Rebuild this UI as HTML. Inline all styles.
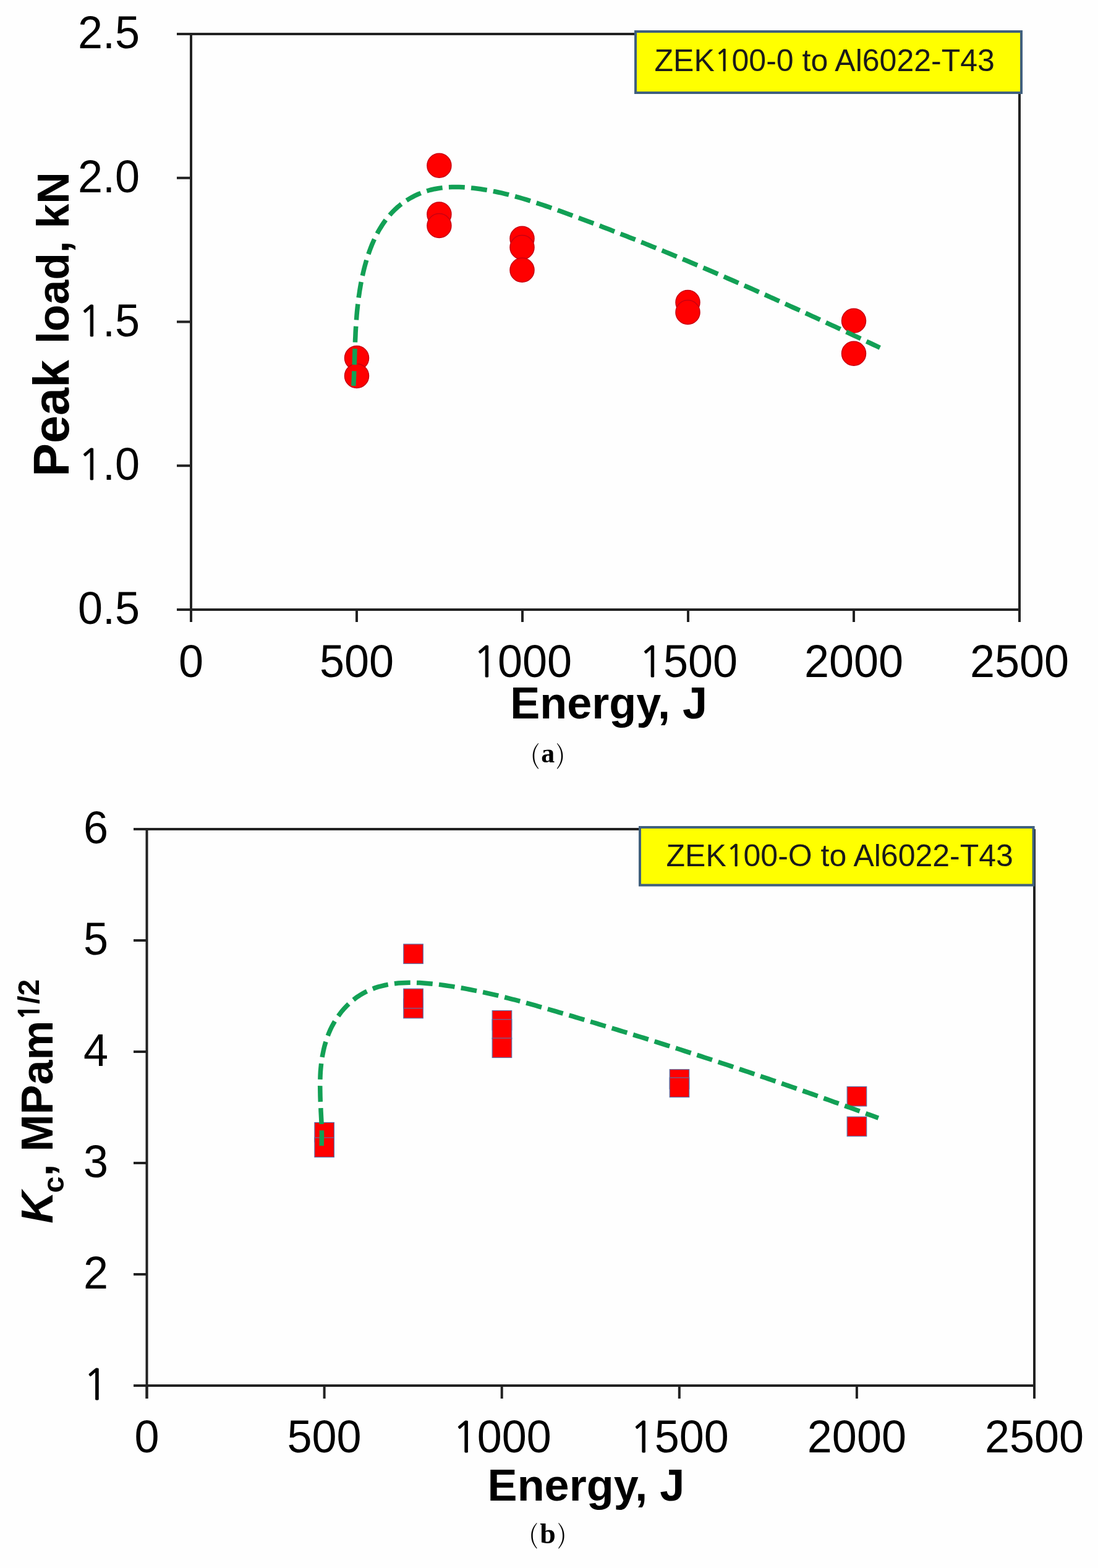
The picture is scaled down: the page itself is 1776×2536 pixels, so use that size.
<!DOCTYPE html>
<html><head><meta charset="utf-8"><title>Peak load and Kc vs Energy</title>
<style>html,body{margin:0;padding:0;background:#fefefe;overflow:hidden;}svg{display:block;}</style></head>
<body>
<svg width="1776" height="2536" viewBox="0 0 1776 2536">
<rect width="1776" height="2536" fill="#fefefe"/>
<g stroke="#222222" stroke-width="4.0" fill="none" stroke-linecap="butt">
<path d="M309,53.0 V1006 M286,986 H1649 M1649,55 V1006 M309,55 H1649"/>
<path d="M286,55.0 H309"/>
<path d="M286,287.8 H309"/>
<path d="M286,520.5 H309"/>
<path d="M286,753.2 H309"/>
<path d="M286,986.0 H309"/>
<path d="M309.0,986 V1006"/>
<path d="M577.0,986 V1006"/>
<path d="M845.0,986 V1006"/>
<path d="M1113.0,986 V1006"/>
<path d="M1381.0,986 V1006"/>
<path d="M1649.0,986 V1006"/>
</g>
<g font-family="'Liberation Sans', Arial, sans-serif" font-size="72" fill="#000" text-anchor="end">
<text transform="translate(226,78.0) scale(1,1.03)">2.5</text>
<text transform="translate(226,310.8) scale(1,1.03)">2.0</text>
<text transform="translate(226,543.5) scale(1,1.03)"><tspan font-family="NanumGothic, Liberation Sans, sans-serif" font-size="67.0" dx="0.00" stroke="currentColor" stroke-width="0.90">1</tspan><tspan dx="-0.57">.</tspan>5</text>
<text transform="translate(226,776.2) scale(1,1.03)"><tspan font-family="NanumGothic, Liberation Sans, sans-serif" font-size="67.0" dx="0.00" stroke="currentColor" stroke-width="0.90">1</tspan><tspan dx="-0.57">.</tspan>0</text>
<text transform="translate(226,1009.0) scale(1,1.03)">0.5</text>
</g>
<g font-family="'Liberation Sans', Arial, sans-serif" font-size="72" fill="#000" text-anchor="middle">
<text transform="translate(309.0,1094.5) scale(1,1.03)">0</text>
<text transform="translate(577.0,1094.5) scale(1,1.03)">500</text>
<text transform="translate(845.0,1094.5) scale(1,1.03)"><tspan font-family="NanumGothic, Liberation Sans, sans-serif" font-size="67.0" dx="0.00" stroke="currentColor" stroke-width="0.90">1</tspan><tspan dx="-0.57">0</tspan>00</text>
<text transform="translate(1113.0,1094.5) scale(1,1.03)"><tspan font-family="NanumGothic, Liberation Sans, sans-serif" font-size="67.0" dx="0.00" stroke="currentColor" stroke-width="0.90">1</tspan><tspan dx="-0.57">5</tspan>00</text>
<text transform="translate(1381.0,1094.5) scale(1,1.03)">2000</text>
<text transform="translate(1649.0,1094.5) scale(1,1.03)">2500</text>
</g>
<text transform="translate(984.6,1162) scale(1,1.01)" font-family="'Liberation Sans', Arial, sans-serif" font-size="72" font-weight="bold" text-anchor="middle">Energy, J</text>
<text x="858.1" y="1234.7" font-family="'Noto Serif CJK SC', 'Liberation Serif', serif" font-weight="300" font-size="40.2">(<tspan font-family="'Liberation Serif', 'Times New Roman', serif" font-weight="bold" font-size="44" dx="2.9" dy="-1.6">a</tspan><tspan dx="2.4" dy="1.6">)</tspan></text>
<text transform="translate(111.1,771.1) rotate(-90)" font-family="'Liberation Sans', Arial, sans-serif" font-weight="bold"><tspan font-size="81">Peak </tspan><tspan font-size="71.5" dx="3.3">load, kN</tspan></text>
<circle cx="577" cy="579" r="19.5" fill="#ff0000" stroke="#c80010" stroke-width="1.5"/>
<circle cx="577" cy="608" r="19.5" fill="#ff0000" stroke="#c80010" stroke-width="1.5"/>
<circle cx="710.4" cy="267.8" r="19.5" fill="#ff0000" stroke="#c80010" stroke-width="1.5"/>
<circle cx="710.4" cy="346.6" r="19.5" fill="#ff0000" stroke="#c80010" stroke-width="1.5"/>
<circle cx="710.4" cy="365" r="19.5" fill="#ff0000" stroke="#c80010" stroke-width="1.5"/>
<circle cx="844.5" cy="385.8" r="19.5" fill="#ff0000" stroke="#c80010" stroke-width="1.5"/>
<circle cx="844.5" cy="400" r="19.5" fill="#ff0000" stroke="#c80010" stroke-width="1.5"/>
<circle cx="844.5" cy="436.7" r="19.5" fill="#ff0000" stroke="#c80010" stroke-width="1.5"/>
<circle cx="1112.5" cy="489" r="19.5" fill="#ff0000" stroke="#c80010" stroke-width="1.5"/>
<circle cx="1112.5" cy="505" r="19.5" fill="#ff0000" stroke="#c80010" stroke-width="1.5"/>
<circle cx="1381" cy="518.8" r="19.5" fill="#ff0000" stroke="#c80010" stroke-width="1.5"/>
<circle cx="1381" cy="571.8" r="19.5" fill="#ff0000" stroke="#c80010" stroke-width="1.5"/>
<path d="M571.8,624.0 L572.1,618.1 L572.4,612.3 L572.6,606.5 L572.8,600.8 L573.0,595.0 L573.2,589.3 L573.4,583.6 L573.6,577.9 L573.8,572.2 L574.0,566.5 L574.2,560.8 L574.4,555.2 L574.6,549.5 L574.9,543.8 L575.1,538.2 L575.4,532.5 L575.8,526.9 L576.2,521.2 L576.6,515.5 L577.0,509.9 L577.5,504.2 L578.1,498.5 L578.7,492.8 L579.4,487.0 L580.1,481.3 L581.0,475.5 L581.8,469.8 L582.8,464.0 L583.8,458.1 L585.0,452.3 L586.2,446.5 L587.5,440.7 L588.9,434.9 L590.4,429.1 L592.0,423.4 L593.7,417.7 L595.5,412.1 L597.5,406.5 L599.5,401.0 L601.7,395.5 L604.0,390.2 L606.5,384.9 L609.0,379.7 L611.7,374.7 L614.6,369.7 L617.6,364.9 L620.7,360.2 L624.0,355.6 L627.5,351.2 L631.1,346.9 L634.9,342.8 L638.8,338.9 L642.9,335.2 L647.2,331.6 L651.6,328.2 L656.2,325.0 L660.9,322.1 L665.8,319.3 L670.8,316.7 L675.9,314.3 L681.1,312.2 L686.3,310.2 L691.7,308.5 L697.2,307.0 L702.7,305.7 L708.3,304.7 L713.9,303.9 L719.6,303.2 L725.3,302.8 L731.1,302.6 L736.8,302.5 L742.6,302.6 L748.4,302.8 L754.3,303.2 L760.1,303.7 L765.9,304.3 L771.7,305.0 L777.4,305.8 L783.2,306.7 L788.9,307.6 L794.6,308.7 L800.3,309.8 L805.9,311.0 L811.6,312.2 L817.2,313.6 L822.8,314.9 L828.4,316.4 L833.9,317.9 L839.5,319.4 L845.0,321.0 L850.5,322.7 L856.1,324.4 L861.5,326.1 L867.0,327.9 L872.5,329.7 L878.0,331.5 L883.4,333.4 L888.9,335.3 L894.3,337.2 L899.7,339.1 L905.2,341.1 L910.6,343.1 L916.0,345.0 L921.4,347.0 L926.8,349.0 L932.2,351.0 L937.6,353.0 L943.0,355.0 L948.4,357.0 L953.8,359.0 L959.2,361.1 L964.6,363.1 L970.0,365.1 L975.3,367.2 L980.7,369.3 L986.1,371.3 L991.4,373.4 L996.8,375.5 L1002.1,377.6 L1007.5,379.7 L1012.9,381.8 L1018.2,383.9 L1023.5,386.0 L1028.9,388.1 L1034.2,390.3 L1039.6,392.4 L1044.9,394.6 L1050.2,396.7 L1055.5,398.9 L1060.9,401.0 L1066.2,403.2 L1071.5,405.4 L1076.8,407.6 L1082.1,409.8 L1087.4,412.0 L1092.8,414.2 L1098.1,416.4 L1103.4,418.6 L1108.7,420.8 L1114.0,423.0 L1119.2,425.3 L1124.5,427.5 L1129.8,429.7 L1135.1,432.0 L1140.4,434.2 L1145.7,436.5 L1151.0,438.8 L1156.2,441.0 L1161.5,443.3 L1166.8,445.6 L1172.1,447.9 L1177.3,450.2 L1182.6,452.5 L1187.8,454.8 L1193.1,457.1 L1198.4,459.4 L1203.6,461.7 L1208.9,464.0 L1214.1,466.3 L1219.4,468.7 L1224.6,471.0 L1229.9,473.3 L1235.1,475.7 L1240.4,478.0 L1245.6,480.4 L1250.9,482.7 L1256.1,485.1 L1261.4,487.5 L1266.6,489.8 L1271.8,492.2 L1277.1,494.6 L1282.3,497.0 L1287.5,499.3 L1292.8,501.7 L1298.0,504.1 L1303.2,506.5 L1308.5,508.9 L1313.7,511.3 L1318.9,513.7 L1324.2,516.1 L1329.4,518.5 L1334.6,520.9 L1339.8,523.4 L1345.1,525.8 L1350.3,528.2 L1355.5,530.6 L1360.7,533.1 L1365.9,535.5 L1371.2,537.9 L1376.4,540.4 L1381.6,542.8 L1386.8,545.2 L1392.0,547.7 L1397.2,550.1 L1402.5,552.6 L1407.7,555.0 L1412.9,557.5 L1418.1,559.9 L1423.3,562.4" fill="none" stroke="#12a055" stroke-width="7.5" stroke-dasharray="25.9 10.3" stroke-dashoffset="2"/>
<rect x="1028" y="51" width="624" height="99" fill="#ffff00" stroke="#40607e" stroke-width="4"/>
<text transform="translate(1058.5,114.6) scale(1,1.01)" font-family="'Liberation Sans', Arial, sans-serif" font-size="50" fill="#1a1a1a">ZEK<tspan font-family="NanumGothic, Liberation Sans, sans-serif" font-size="47.4" dx="0.00" stroke="currentColor" stroke-width="0.62">1</tspan><tspan dx="-0.94">0</tspan>0-0 to Al6022-T43</text>
<g stroke="#222222" stroke-width="4.0" fill="none" stroke-linecap="butt">
<path d="M237.5,1339.0 V2262 M216.0,2241 H1673 M1673,1341 V2262 M237.5,1341 H1673"/>
<path d="M216.0,1341.0 H237.5"/>
<path d="M216.0,1521.0 H237.5"/>
<path d="M216.0,1701.0 H237.5"/>
<path d="M216.0,1881.0 H237.5"/>
<path d="M216.0,2061.0 H237.5"/>
<path d="M216.0,2241.0 H237.5"/>
<path d="M237.5,2241 V2262"/>
<path d="M524.6,2241 V2262"/>
<path d="M811.7,2241 V2262"/>
<path d="M1098.8,2241 V2262"/>
<path d="M1385.9,2241 V2262"/>
<path d="M1673.0,2241 V2262"/>
</g>
<g font-family="'Liberation Sans', Arial, sans-serif" font-size="72" fill="#000" text-anchor="end">
<text transform="translate(175,1364.0) scale(1,1.03)">6</text>
<text transform="translate(175,1544.0) scale(1,1.03)">5</text>
<text transform="translate(175,1724.0) scale(1,1.03)">4</text>
<text transform="translate(175,1904.0) scale(1,1.03)">3</text>
<text transform="translate(175,2084.0) scale(1,1.03)">2</text>
<text transform="translate(175,2264.0) scale(1,1.03)"><tspan font-family="NanumGothic, Liberation Sans, sans-serif" font-size="67.0" dx="0.00" stroke="currentColor" stroke-width="0.90">1</tspan></text>
</g>
<g font-family="'Liberation Sans', Arial, sans-serif" font-size="72" fill="#000" text-anchor="middle">
<text transform="translate(237.5,2349) scale(1,1.03)">0</text>
<text transform="translate(524.6,2349) scale(1,1.03)">500</text>
<text transform="translate(811.7,2349) scale(1,1.03)"><tspan font-family="NanumGothic, Liberation Sans, sans-serif" font-size="67.0" dx="0.00" stroke="currentColor" stroke-width="0.90">1</tspan><tspan dx="-0.57">0</tspan>00</text>
<text transform="translate(1098.8,2349) scale(1,1.03)"><tspan font-family="NanumGothic, Liberation Sans, sans-serif" font-size="67.0" dx="0.00" stroke="currentColor" stroke-width="0.90">1</tspan><tspan dx="-0.57">5</tspan>00</text>
<text transform="translate(1385.9,2349) scale(1,1.03)">2000</text>
<text transform="translate(1673.0,2349) scale(1,1.03)">2500</text>
</g>
<text transform="translate(948,2427.2) scale(1,1.01)" font-family="'Liberation Sans', Arial, sans-serif" font-size="72" font-weight="bold" text-anchor="middle">Energy, J</text>
<text x="855.6" y="2496.2" font-family="'Noto Serif CJK SC', 'Liberation Serif', serif" font-weight="300" font-size="40.2">(<tspan font-family="'Liberation Serif', 'Times New Roman', serif" font-weight="bold" font-size="46" dx="3.4" dy="-0.7">b</tspan><tspan dx="3.0" dy="0.7">)</tspan></text>
<text transform="translate(85.2,1978.8) rotate(-90)" font-family="'Liberation Sans', Arial, sans-serif" font-size="72" font-weight="bold"><tspan font-style="italic">K</tspan><tspan font-size="48" dx="-2.4" dy="17.4">c</tspan><tspan dy="-17.4">, MPam</tspan><tspan font-size="48" dy="-22.6"><tspan font-family="NanumGothic, Liberation Sans, sans-serif" font-size="45.2" dx="0.00" stroke="currentColor" stroke-width="0.60">1</tspan><tspan dx="-0.70">/</tspan>2</tspan></text>
<rect x="508.9" y="1815.5" width="31.5" height="31.5" fill="#ff0000" stroke="#5a70a8" stroke-width="1.2"/>
<rect x="508.9" y="1840.0" width="31.5" height="31.5" fill="#ff0000" stroke="#5a70a8" stroke-width="1.2"/>
<rect x="652.8" y="1527.0" width="31.5" height="31.5" fill="#ff0000" stroke="#5a70a8" stroke-width="1.2"/>
<rect x="652.8" y="1615.3" width="31.5" height="31.5" fill="#ff0000" stroke="#5a70a8" stroke-width="1.2"/>
<rect x="652.8" y="1599.2" width="31.5" height="31.5" fill="#ff0000" stroke="#5a70a8" stroke-width="1.2"/>
<rect x="796.2" y="1634.5" width="31.5" height="31.5" fill="#ff0000" stroke="#5a70a8" stroke-width="1.2"/>
<rect x="796.2" y="1648.8" width="31.5" height="31.5" fill="#ff0000" stroke="#5a70a8" stroke-width="1.2"/>
<rect x="796.2" y="1679.0" width="31.5" height="31.5" fill="#ff0000" stroke="#5a70a8" stroke-width="1.2"/>
<rect x="1083.2" y="1729.7" width="31.5" height="31.5" fill="#ff0000" stroke="#5a70a8" stroke-width="1.2"/>
<rect x="1083.2" y="1743.0" width="31.5" height="31.5" fill="#ff0000" stroke="#5a70a8" stroke-width="1.2"/>
<rect x="1370.2" y="1757.5" width="31.5" height="31.5" fill="#ff0000" stroke="#5a70a8" stroke-width="1.2"/>
<rect x="1370.2" y="1806.2" width="31.5" height="31.5" fill="#ff0000" stroke="#5a70a8" stroke-width="1.2"/>
<path d="M520.1,1853.1 L520.3,1847.5 L520.4,1842.0 L520.5,1836.4 L520.4,1830.8 L520.3,1825.1 L520.1,1819.5 L519.9,1813.8 L519.6,1808.1 L519.3,1802.4 L519.0,1796.7 L518.8,1791.0 L518.5,1785.2 L518.2,1779.5 L518.0,1773.7 L517.9,1767.9 L517.8,1762.1 L517.7,1756.3 L517.8,1750.5 L517.9,1744.7 L518.1,1738.9 L518.4,1733.1 L518.9,1727.2 L519.5,1721.4 L520.2,1715.6 L521.1,1709.8 L522.2,1704.1 L523.4,1698.3 L524.7,1692.7 L526.3,1687.1 L528.0,1681.5 L529.9,1676.1 L532.0,1670.7 L534.3,1665.4 L536.8,1660.2 L539.6,1655.1 L542.5,1650.2 L545.7,1645.3 L549.0,1640.7 L552.5,1636.1 L556.2,1631.8 L560.1,1627.6 L564.2,1623.6 L568.3,1619.8 L572.7,1616.3 L577.1,1612.9 L581.7,1609.8 L586.4,1607.0 L591.2,1604.4 L596.2,1602.0 L601.2,1599.9 L606.3,1597.9 L611.5,1596.2 L616.8,1594.8 L622.2,1593.5 L627.6,1592.4 L633.1,1591.4 L638.7,1590.7 L644.3,1590.1 L650.0,1589.7 L655.7,1589.4 L661.5,1589.3 L667.3,1589.3 L673.1,1589.4 L678.9,1589.6 L684.8,1589.9 L690.7,1590.4 L696.5,1590.9 L702.4,1591.5 L708.3,1592.2 L714.2,1592.9 L720.0,1593.7 L725.8,1594.6 L731.6,1595.4 L737.4,1596.4 L743.2,1597.3 L748.9,1598.3 L754.7,1599.4 L760.4,1600.5 L766.0,1601.6 L771.7,1602.7 L777.4,1603.9 L783.0,1605.1 L788.6,1606.4 L794.2,1607.6 L799.8,1608.9 L805.4,1610.2 L810.9,1611.6 L816.5,1613.0 L822.0,1614.4 L827.5,1615.8 L833.1,1617.2 L838.6,1618.7 L844.1,1620.2 L849.6,1621.7 L855.1,1623.2 L860.5,1624.7 L866.0,1626.2 L871.5,1627.8 L877.0,1629.3 L882.4,1630.9 L887.9,1632.5 L893.4,1634.1 L898.8,1635.7 L904.3,1637.3 L909.8,1638.9 L915.2,1640.5 L920.7,1642.1 L926.2,1643.7 L931.6,1645.3 L937.1,1647.0 L942.6,1648.6 L948.1,1650.2 L953.5,1651.9 L959.0,1653.5 L964.5,1655.2 L969.9,1656.8 L975.4,1658.5 L980.9,1660.1 L986.4,1661.8 L991.8,1663.5 L997.3,1665.1 L1002.8,1666.8 L1008.2,1668.5 L1013.7,1670.2 L1019.2,1671.9 L1024.7,1673.6 L1030.1,1675.3 L1035.6,1677.0 L1041.1,1678.7 L1046.5,1680.4 L1052.0,1682.1 L1057.5,1683.9 L1062.9,1685.6 L1068.4,1687.3 L1073.9,1689.1 L1079.3,1690.8 L1084.8,1692.5 L1090.3,1694.3 L1095.7,1696.0 L1101.2,1697.8 L1106.7,1699.6 L1112.1,1701.3 L1117.6,1703.1 L1123.1,1704.9 L1128.5,1706.6 L1134.0,1708.4 L1139.4,1710.2 L1144.9,1712.0 L1150.4,1713.8 L1155.8,1715.6 L1161.3,1717.4 L1166.7,1719.2 L1172.2,1721.0 L1177.6,1722.8 L1183.1,1724.6 L1188.5,1726.5 L1194.0,1728.3 L1199.4,1730.1 L1204.8,1732.0 L1210.3,1733.8 L1215.7,1735.6 L1221.2,1737.5 L1226.6,1739.3 L1232.0,1741.2 L1237.5,1743.0 L1242.9,1744.9 L1248.3,1746.8 L1253.7,1748.6 L1259.2,1750.5 L1264.6,1752.4 L1270.0,1754.3 L1275.4,1756.1 L1280.8,1758.0 L1286.3,1759.9 L1291.7,1761.8 L1297.1,1763.7 L1302.5,1765.6 L1307.9,1767.5 L1313.3,1769.4 L1318.7,1771.3 L1324.1,1773.2 L1329.5,1775.2 L1334.9,1777.1 L1340.3,1779.0 L1345.7,1780.9 L1351.0,1782.9 L1356.4,1784.8 L1361.8,1786.7 L1367.2,1788.7 L1372.6,1790.6 L1377.9,1792.6 L1383.3,1794.5 L1388.7,1796.5 L1394.0,1798.4 L1399.4,1800.4 L1404.7,1802.4 L1410.1,1804.3 L1415.5,1806.3 L1420.8,1808.3" fill="none" stroke="#12a055" stroke-width="7.5" stroke-dasharray="25.8 10.3" stroke-dashoffset="1"/>
<rect x="1035" y="1338" width="636.6" height="93.6" fill="#ffff00" stroke="#40607e" stroke-width="4"/>
<text transform="translate(1077.5,1400.6) scale(1,1.01)" font-family="'Liberation Sans', Arial, sans-serif" font-size="50" fill="#1a1a1a">ZEK<tspan font-family="NanumGothic, Liberation Sans, sans-serif" font-size="47.4" dx="0.00" stroke="currentColor" stroke-width="0.62">1</tspan><tspan dx="-0.94">0</tspan>0-O to Al6022-T43</text>
</svg>
</body></html>
